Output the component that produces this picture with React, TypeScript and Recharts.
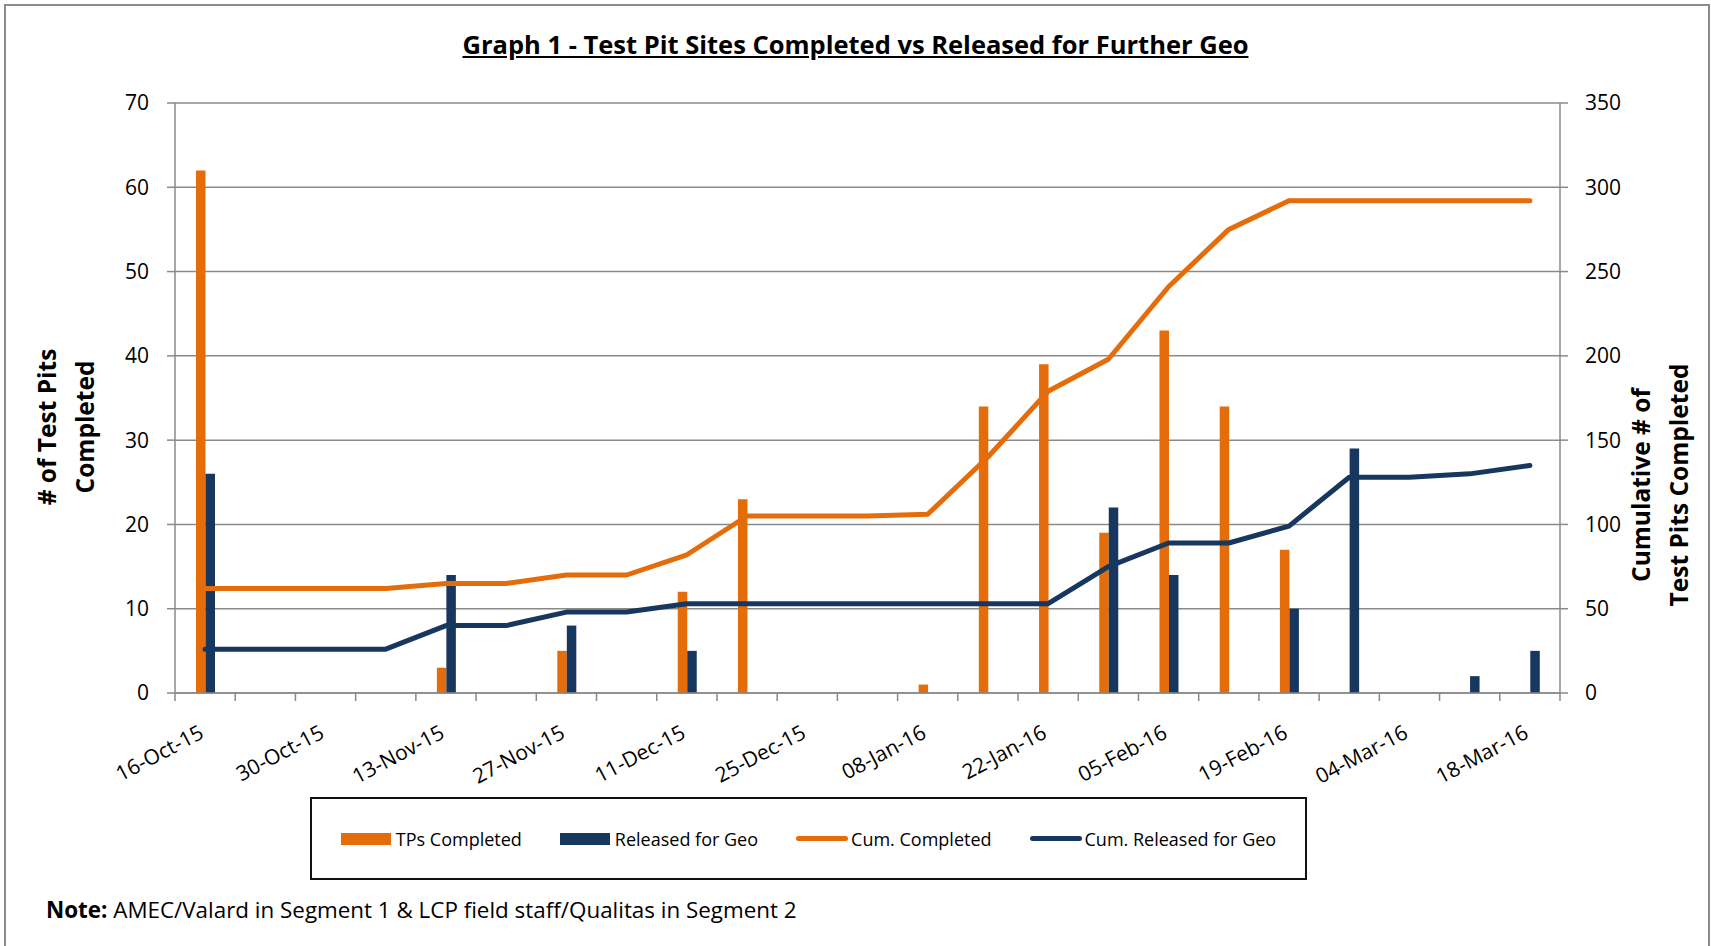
import React from 'react';
import {
  ComposedChart, Bar, Line, XAxis, YAxis, CartesianGrid, Legend,
} from 'recharts';

const ORANGE = '#E46C0A';
const NAVY = '#17375E';
const GRID = '#8a8a8a';
const FONT = '"Open Sans", "DejaVu Sans", sans-serif';

const weeks = [
  '16-Oct-15', '23-Oct-15', '30-Oct-15', '06-Nov-15', '13-Nov-15', '20-Nov-15',
  '27-Nov-15', '04-Dec-15', '11-Dec-15', '18-Dec-15', '25-Dec-15', '01-Jan-16',
  '08-Jan-16', '15-Jan-16', '22-Jan-16', '29-Jan-16', '05-Feb-16', '12-Feb-16',
  '19-Feb-16', '26-Feb-16', '04-Mar-16', '11-Mar-16', '18-Mar-16',
];
const tpsCompleted = [62, 0, 0, 0, 3, 0, 5, 0, 12, 23, 0, 0, 1, 34, 39, 19, 43, 34, 17, 0, 0, 0, 0];
const releasedForGeo = [26, 0, 0, 0, 14, 0, 8, 0, 5, 0, 0, 0, 0, 0, 0, 22, 14, 0, 10, 29, 0, 2, 5];
const cumCompleted = [62, 62, 62, 62, 65, 65, 70, 70, 82, 105, 105, 105, 106, 140, 179, 198, 241, 275, 292, 292, 292, 292, 292];
const cumReleased = [26, 26, 26, 26, 40, 40, 48, 48, 53, 53, 53, 53, 53, 53, 53, 75, 89, 89, 99, 128, 128, 130, 135];

const leftTicks = [0, 10, 20, 30, 40, 50, 60, 70];
const rightTicks = [0, 50, 100, 150, 200, 250, 300, 350];
const legendOrder = ['TPs Completed', 'Released for Geo', 'Cum. Completed', 'Cum. Released for Geo'];

const data = weeks.map((w, i) => ({
  idx: i,
  week: w,
  tps: tpsCompleted[i],
  released: releasedForGeo[i],
  cumTps: cumCompleted[i],
  cumReleased: cumReleased[i],
}));

// tick marks sit between weeks, labels on every second week
const xTicks: number[] = [];
for (let i = 0; i <= weeks.length; i++) {
  xTicks.push(i - 0.5);
  if (i < weeks.length && i % 2 === 0) xTicks.push(i);
}

function WeekTick(props: any) {
  const { x, y, payload } = props;
  const v = payload.value;
  if (!Number.isInteger(v)) {
    return <line x1={x} y1={y - 8} x2={x} y2={y} stroke={GRID} strokeWidth={1.5} />;
  }
  const ty = y + 36;
  return (
    <text x={x} y={ty} textAnchor="end" fontSize={21} fill="#000" transform={`rotate(-28, ${x}, ${ty})`}>
      {weeks[v]}
    </text>
  );
}

function LegendBox(props: any) {
  const items = [...(props.payload || [])].sort(
    (a: any, b: any) => legendOrder.indexOf(a.value) - legendOrder.indexOf(b.value),
  );
  return (
    <div style={{
      boxSizing: 'border-box', width: '100%', height: '100%', border: '2px solid #111',
      display: 'flex', alignItems: 'center', justifyContent: 'center', fontSize: 18, color: '#000',
    }}>
      {items.map((p: any, i: number) => (
        <div key={p.value} style={{ display: 'flex', alignItems: 'center', marginLeft: i === 0 ? 0 : 38 }}>
          {p.type === 'line' ? (
            <div style={{ width: 52, height: 5, borderRadius: 3, background: p.color, marginRight: 3 }} />
          ) : (
            <div style={{ width: 50, height: 12, background: p.color, marginRight: 5 }} />
          )}
          <span>{p.value}</span>
        </div>
      ))}
    </div>
  );
}

export default function App() {
  return (
    <div style={{ position: 'absolute', left: 0, top: 0, width: 1711, height: 946, background: '#fff', fontFamily: FONT, overflow: 'hidden' }}>
      <div style={{ position: 'absolute', left: 4, top: 4, width: 1706, height: 960, boxSizing: 'border-box', border: '2px solid #8c8c8c' }} />
      <div style={{ position: 'absolute', left: 0, top: 29, width: 1711, textAlign: 'center', fontSize: 25.5, fontWeight: 700, lineHeight: '30px', textDecoration: 'underline' }}>
        Graph 1 - Test Pit Sites Completed vs Released for Further Geo
      </div>
      <ComposedChart width={1711} height={946} data={data} margin={{ top: 103, right: 0, bottom: 0, left: 0 }} barGap={0}>
        <CartesianGrid vertical={false} stroke={GRID} strokeWidth={1.5} />
        <XAxis
          dataKey="idx"
          type="number"
          domain={[-0.5, weeks.length - 0.5]}
          ticks={xTicks}
          interval={0}
          height={253}
          tickSize={8}
          tickMargin={0}
          tickLine={false}
          axisLine={{ stroke: GRID, strokeWidth: 1.5 }}
          tick={<WeekTick />}
        />
        <YAxis
          domain={[0, 70]}
          ticks={leftTicks}
          width={175}
          tickSize={8}
          tickMargin={18}
          axisLine={{ stroke: GRID, strokeWidth: 1.5 }}
          tickLine={{ stroke: GRID, strokeWidth: 1.5 }}
          tick={{ fontSize: 21, fill: '#000' }}
        />
        <YAxis
          yAxisId="right"
          orientation="right"
          domain={[0, 350]}
          ticks={rightTicks}
          width={151}
          tickSize={8}
          tickMargin={17}
          axisLine={{ stroke: GRID, strokeWidth: 1.5 }}
          tickLine={{ stroke: GRID, strokeWidth: 1.5 }}
          tick={{ fontSize: 21, fill: '#000', textAnchor: 'start' }}
        />
        <Bar dataKey="tps" name="TPs Completed" fill={ORANGE} barSize={9.5} isAnimationActive={false} />
        <Bar dataKey="released" name="Released for Geo" fill={NAVY} barSize={9.5} isAnimationActive={false} />
        <Line yAxisId="right" type="linear" dataKey="cumTps" name="Cum. Completed" stroke={ORANGE} strokeWidth={5}
          strokeLinecap="round" strokeLinejoin="round" dot={false} activeDot={false} isAnimationActive={false} />
        <Line yAxisId="right" type="linear" dataKey="cumReleased" name="Cum. Released for Geo" stroke={NAVY} strokeWidth={5}
          strokeLinecap="round" strokeLinejoin="round" dot={false} activeDot={false} isAnimationActive={false} />
        <Legend
          layout="horizontal"
          align="center"
          verticalAlign="middle"
          content={<LegendBox />}
          wrapperStyle={{ position: 'absolute', left: 310, top: 797, width: 997, height: 83 }}
        />
      </ComposedChart>
      <div style={{ position: 'absolute', left: 66, top: 427, transform: 'translate(-50%, -50%) rotate(-90deg)', whiteSpace: 'nowrap', textAlign: 'center', fontSize: 24.5, fontWeight: 700, lineHeight: '38px' }}>
        # of Test Pits<br />Completed
      </div>
      <div style={{ position: 'absolute', left: 1660, top: 485, transform: 'translate(-50%, -50%) rotate(-90deg)', whiteSpace: 'nowrap', textAlign: 'center', fontSize: 24.5, fontWeight: 700, lineHeight: '38px' }}>
        Cumulative # of<br />Test Pits Completed
      </div>
      <div style={{ position: 'absolute', left: 46, top: 896, fontSize: 22.4, lineHeight: '28px', whiteSpace: 'nowrap' }}>
        <b>Note:</b> AMEC/Valard in Segment 1 &amp; LCP field staff/Qualitas in Segment 2
      </div>
    </div>
  );
}
